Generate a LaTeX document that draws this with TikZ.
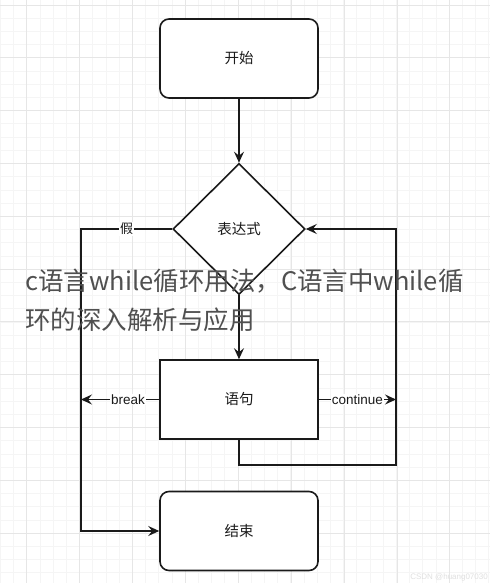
\documentclass[tikz,border=0pt]{standalone}
\usepackage{fontspec}
\setmainfont{Liberation Sans}
\newfontfamily\cjk{Noto Sans CJK SC}
\usetikzlibrary{arrows.meta,shapes.geometric}
\definecolor{ink}{HTML}{1A1A1A}
\definecolor{minorgrid}{HTML}{F5F5F5}
\definecolor{majorgrid}{HTML}{E6E6E6}
\definecolor{wmark}{HTML}{505050}
\tikzset{
  box/.style={draw=ink, line width=1.6pt, fill=white, minimum width=158pt, minimum height=79pt, inner sep=0pt, font=\cjk\fontsize{14.5}{16}\selectfont, text=ink},
  term/.style={box, rounded corners=9pt},
  dec/.style={draw=ink, line width=1.6pt, fill=white, diamond, minimum width=132pt, minimum height=131pt, inner sep=0pt, font=\cjk\fontsize{14.5}{16}\selectfont, text=ink},
  conn/.style={draw=ink, line width=1.5pt},
  arr/.style={conn, -{Stealth[length=11pt,width=10pt,inset=4pt]}},
  lbl/.style={fill=white, inner sep=1pt, text=ink, font=\fontsize{13.5}{15}\selectfont},
  lblcjk/.style={lbl, font=\cjk\fontsize{13}{15}\selectfont},
  wm/.style={anchor=base west, inner sep=0pt, text=wmark, font=\cjk\fontsize{25.5}{30}\selectfont}
}
\begin{document}
\begin{tikzpicture}[x=1pt,y=-1pt]
\useasboundingbox (0,0) rectangle (490,583);
\fill[white] (0,0) rectangle (490,583);
% grid
\foreach \i in {0,...,37} {
  \draw[minorgrid, line width=0.6pt] ({0.3+13.2*\i},0) -- ({0.3+13.2*\i},583);
}
\foreach \i in {0,...,44} {
  \draw[minorgrid, line width=0.6pt] (0,{5+13.2*\i}) -- (490,{5+13.2*\i});
}
\foreach \i in {0,...,9} {
  \draw[majorgrid, line width=0.9pt] ({26.7+52.9*\i},0) -- ({26.7+52.9*\i},583);
}
\foreach \i in {0,...,11} {
  \draw[majorgrid, line width=0.9pt] (0,{5+52.8*\i}) -- (490,{5+52.8*\i});
}
% nodes
\node[term] (start) at (239,58.5) {开始};
\node[dec] (expr) at (239,229) {表达式};
\node[box] (stmt) at (239,399.5) {语句};
\node[term] (end) at (239,531) {结束};
% helper points
\coordinate (lb) at (239,465);
\coordinate (rb) at (396,465);
\coordinate (rt) at (396,229);
\coordinate (cr) at (396,399.5);
\coordinate (bl) at (81,399.5);
\coordinate (ft) at (81,229);
\coordinate (fb) at (81,531);
% connectors
\draw[arr] (start) -- (expr);
\draw[arr] (expr) -- (stmt);
\draw[arr] (stmt.south) -- (lb) -- (rb) -- (rt) -- (expr.east);
\draw[arr] (stmt.east) -- node[lbl, pos=0.5] {continue} (cr);
\draw[arr] (stmt.west) -- node[lbl, pos=0.4] {break} (bl);
\draw[arr] (expr.west) -- node[lblcjk, pos=0.5] {假} (ft) -- (fb) -- (end.west);
% watermark text
\node[wm] (wm1) at (25,290) {c语言while循环用法，C语言中while循};
\node[wm] (wm2) at (25,329) {环的深入解析与应用};
\node[anchor=south east, inner sep=2pt, text=black!12, font=\fontsize{8}{9}\selectfont] (csdn) at (490,583) {CSDN @huang07030};
\end{tikzpicture}
\end{document}
